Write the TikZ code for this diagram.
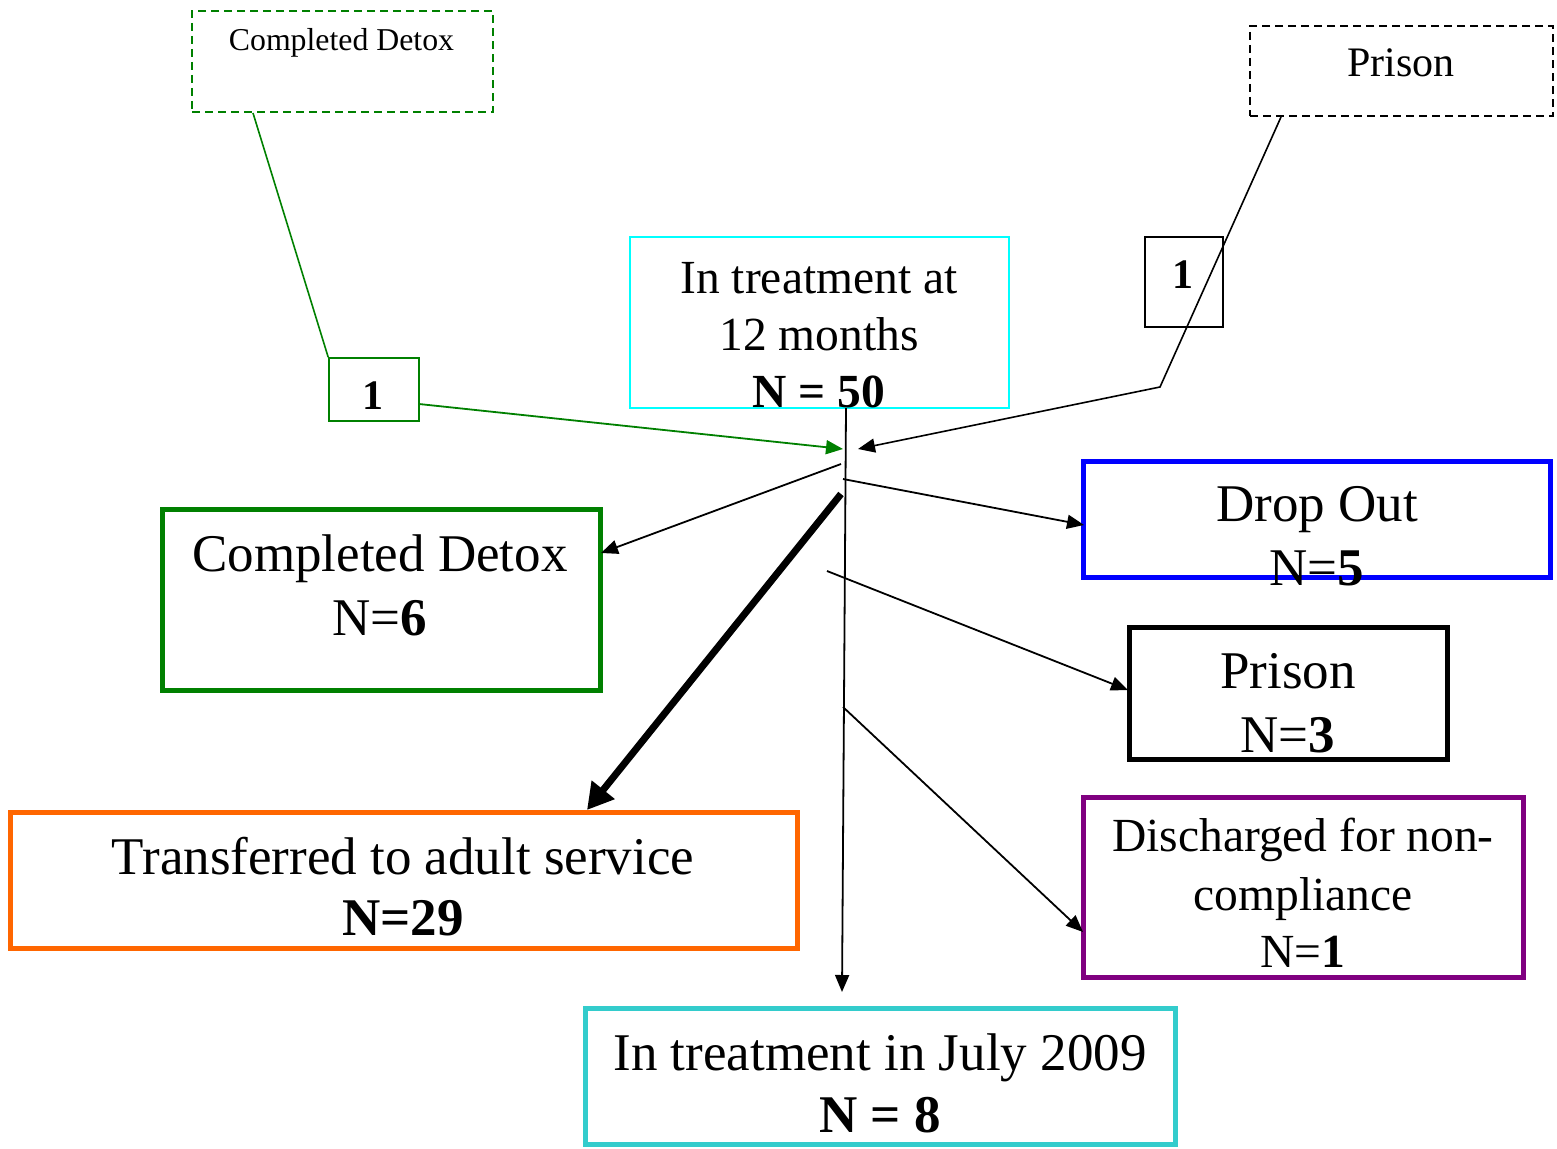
\documentclass[tikz,border=0pt]{standalone}
\usepackage{fontspec}
\setmainfont{Liberation Serif}
\usetikzlibrary{arrows.meta}
\definecolor{dgreen}{RGB}{0,128,0}
\definecolor{orng}{RGB}{255,102,0}
\definecolor{purp}{RGB}{128,0,128}
\definecolor{teal2}{RGB}{51,204,204}
\definecolor{cyan2}{RGB}{0,255,255}
\tikzset{
  boxnode/.style={draw, rectangle, inner sep=0pt, line width=5pt},
  thinbox/.style={draw, rectangle, inner sep=0pt, line width=1.6pt},
  dashbox/.style={draw, rectangle, inner sep=0pt, line width=1.8pt, dash pattern=on 8pt off 5pt},
  big/.style={anchor=base, inner sep=0pt, font=\fontsize{53}{64}\selectfont},
  mid/.style={anchor=base, inner sep=0pt, font=\fontsize{47.5}{57}\selectfont},
  conn/.style={line width=1.8pt, -{Triangle[length=17pt,width=14pt]}},
}
\begin{document}
\begin{tikzpicture}[x=1pt,y=-1pt]
\useasboundingbox (0,0) rectangle (1557,1148);
% boxes
\node[dashbox, draw=dgreen, minimum width=301, minimum height=101] (topcd) at (342.5,61.5) {};
\node[dashbox, draw=black, minimum width=303, minimum height=90] (toppr) at (1401.5,71) {};
\node[thinbox, draw=dgreen, minimum width=90, minimum height=63] (oneg) at (374,389.5) {};
\node[thinbox, draw=black, minimum width=78, minimum height=90] (oneb) at (1184,282) {};
\node[thinbox, draw=cyan2, minimum width=379, minimum height=171] (treat) at (819.5,322.5) {};
\node[boxnode, draw=dgreen, minimum width=438, minimum height=181] (cd) at (381,599.5) {};
\node[boxnode, draw=blue, minimum width=467, minimum height=116] (drop) at (1316.5,519) {};
\node[boxnode, draw=black, minimum width=318, minimum height=132] (pris) at (1288,693) {};
\node[boxnode, draw=purp, minimum width=440, minimum height=180] (disc) at (1303,887) {};
\node[boxnode, draw=orng, minimum width=787, minimum height=136] (trans) at (403.5,880) {};
\node[boxnode, draw=teal2, minimum width=590, minimum height=136] (july) at (880,1076) {};
% texts
\node[anchor=base, inner sep=0pt, font=\fontsize{31.8}{38}\selectfont] (tcdt) at (341.5,51) {Completed Detox};
\node[anchor=base, inner sep=0pt, font=\fontsize{42}{50}\selectfont] (tprt) at (1401,77) {Prison};
\node[anchor=base, inner sep=0pt, font=\fontsize{42}{50}\selectfont\bfseries] (ogt) at (373,409) {1};
\node[anchor=base, inner sep=0pt, font=\fontsize{42}{50}\selectfont\bfseries] (obt) at (1183,288) {1};
\node[mid] (tr1) at (819,293) {In treatment at};
\node[mid] (tr2) at (819,350) {12 months};
\node[mid, font=\fontsize{47.5}{57}\selectfont\bfseries] (tr3) at (819,407) {N = 50};
\node[big] (cd1) at (380,571) {Completed Detox};
\node[big] (cd2) at (380,635) {N=\textbf{6}};
\node[big] (dr1) at (1317,521) {Drop Out};
\node[big] (dr2) at (1317,585) {N=\textbf{5}};
\node[big] (pr1) at (1288,688) {Prison};
\node[big] (pr2) at (1288,752) {N=\textbf{3}};
\node[mid] (di1) at (1303,851) {Discharged for non-};
\node[mid] (di2) at (1303,910) {compliance};
\node[mid] (di3) at (1303,967) {N=\textbf{1}};
\node[big] (tf1) at (403,874) {Transferred to adult service};
\node[big, font=\fontsize{53}{64}\selectfont\bfseries] (tf2) at (403,935) {N=29};
\node[big] (jl1) at (880,1070) {In treatment in July 2009};
\node[big, font=\fontsize{53}{64}\selectfont\bfseries] (jl2) at (880,1132) {N = 8};
% connector points
\coordinate (gtop) at (253,113);
\coordinate (gin) at (843,449);
\coordinate (gout) at (419,404);
\coordinate (btop) at (1281,117);
\coordinate (bbend) at (1160,387);
\coordinate (bin) at (858,449);
\coordinate (vtop) at (846,408);
\coordinate (vbot) at (842,992);
\coordinate (h1) at (841,464);
\coordinate (e1) at (601,553);
\coordinate (h2) at (843,479);
\coordinate (e2) at (1084,525);
\coordinate (h3) at (841,494);
\coordinate (e3) at (587,810);
\coordinate (h4) at (827,571);
\coordinate (e4) at (1128,690);
\coordinate (h5) at (843,707);
\coordinate (e5) at (1083,932);
% connectors
\draw[dgreen, line width=1.6pt] (gtop) -- (oneg.north west);
\draw[dgreen, conn] (gout) -- (gin);
\draw[line width=1.6pt, -{Triangle[length=17pt,width=14pt]}] (btop) -- (bbend) -- (bin);
\draw[conn] (vtop) -- (vbot);
\draw[conn] (h1) -- (e1);
\draw[conn] (h2) -- (e2);
\draw[line width=7pt, -{Triangle[length=26pt,width=28pt]}] (h3) -- (e3);
\draw[conn] (h4) -- (e4);
\draw[conn] (h5) -- (e5);
\end{tikzpicture}
\end{document}
